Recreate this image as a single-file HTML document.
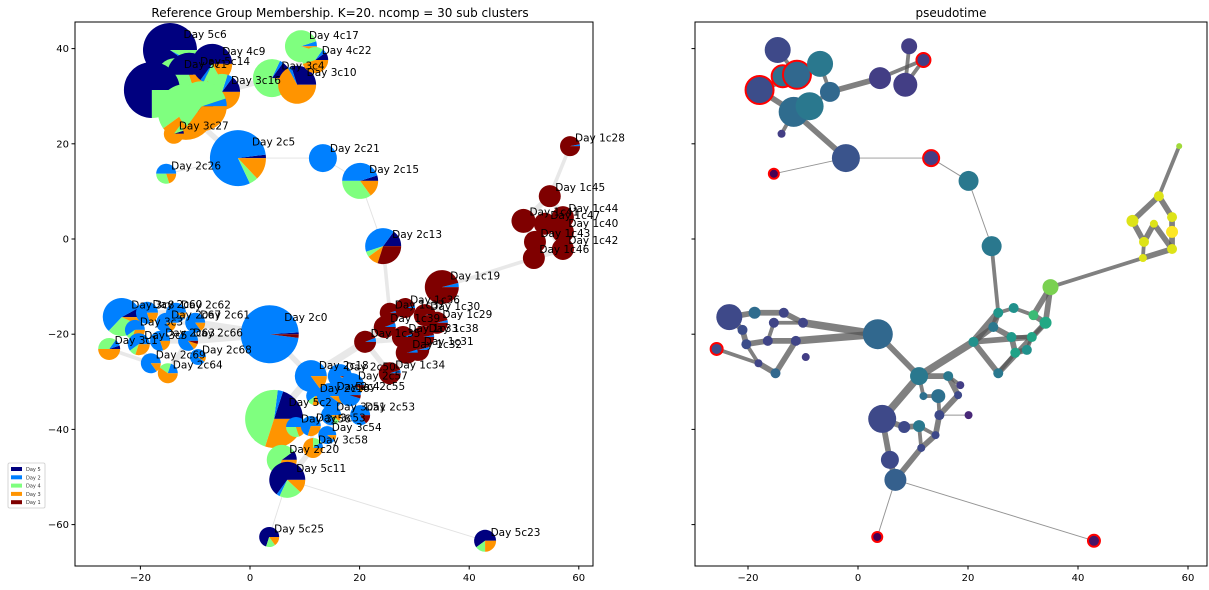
<!DOCTYPE html>
<html><head><meta charset="utf-8">
<style>
html,body{margin:0;padding:0;background:#fff;}
svg{display:block;font-family:"DejaVu Sans","Liberation Sans",sans-serif;}
</style></head>
<body>
<svg id="chart" width="1209" height="590" viewBox="0 0 1209 590" xmlns="http://www.w3.org/2000/svg">
<defs>
<clipPath id="clipL"><rect x="75" y="22" width="518" height="544"/></clipPath>
<clipPath id="clipR"><rect x="695" y="22" width="512" height="544"/></clipPath>
</defs>
<text x="340" y="17" font-size="12" text-anchor="middle">Reference Group Membership. K=20. ncomp = 30 sub clusters</text>
<text x="951" y="17" font-size="12" text-anchor="middle">pseudotime</text>
<g id="leftEdges" clip-path="url(#clipL)"></g>
<g id="leftNodes" clip-path="url(#clipL)"></g>
<g id="leftLabels"></g>
<g id="rightEdges" clip-path="url(#clipR)"></g>
<g id="rightNodes" clip-path="url(#clipR)"></g>
<g id="axes"></g>
<g id="legend"></g>
</svg>
<script>
const nodeLabels=["Day 5c6","Day 5c1","Day 5c14","Day 4c9","","Day 3c16","","","Day 3c27","Day 2c5","Day 2c26","Day 3c4","Day 3c10","Day 4c17","Day 4c22","Day 2c21","Day 2c15","Day 2c13","Day 1c28","Day 1c45","Day 1c41","Day 1c47","Day 1c44","Day 1c40","Day 1c43","Day 1c42","Day 1c46","Day 1c19","Day 1c37","Day 1c36","Day 1c30","Day 1c29","Day 1c39","Day 1c33","Day 1c38","Day 1c35","Day 1c31","Day 1c32","Day 1c34","Day 3c8","Day 2c60","Day 3c3","Day 2c62","Day 2c67","Day 2c61","Day 3c5","Day 2c63","Day 2c66","Day 3c1","Day 2c68","Day 2c69","Day 2c64","Day 2c0","Day 2c18","Day 2c50","Day 2c57","Day 2c16","Day 2c4","Day 2c55","Day 2c53","Day 3c51","Day 5c2","Day 3c56","Day 3c53","Day 3c54","Day 3c58","Day 2c20","Day 5c11","Day 5c25","Day 5c23"];
const nodeX=[-14.6,-13.7,-11.1,-6.9,-17.9,-5.1,-11.7,-8.8,-13.9,-2.2,-15.3,4.0,8.6,9.3,11.9,13.3,20.1,24.3,58.4,54.7,49.9,53.8,57.1,57.1,52.0,57.1,51.8,35.0,25.5,28.3,31.9,34.1,24.6,27.9,31.6,21.0,30.7,28.6,25.5,-23.4,-18.8,-21.0,-13.5,-15.3,-10.0,-20.3,-16.4,-11.3,-25.7,-9.5,-18.1,-15.0,3.6,11.1,16.4,18.6,11.9,14.6,18.2,20.1,14.8,4.4,8.4,11.1,14.1,11.5,5.8,6.8,3.5,42.9];
const nodeY=[39.7,34.2,34.5,36.8,31.3,30.9,26.7,27.9,22.1,17.0,13.7,33.8,32.4,40.5,37.6,17.0,12.2,-1.5,19.5,9.0,3.8,3.2,4.6,1.5,-0.6,-2.1,-4.0,-10.1,-15.5,-14.5,-16.0,-17.6,-18.5,-20.6,-20.6,-21.6,-23.3,-23.9,-28.2,-16.4,-15.5,-19.1,-15.5,-17.6,-17.6,-22.1,-21.4,-21.4,-23.1,-24.8,-26.1,-28.2,-20.0,-28.8,-28.8,-30.7,-33.0,-33.0,-32.8,-37.0,-37.0,-37.8,-39.5,-39.3,-41.2,-43.9,-46.4,-50.6,-62.6,-63.4];
const sizeLeft=[27,18,22,20,28,18,28,25,10,28,10,19,19,16,13,14,18,18,10,11,12,11,11,11,11,11,11,17,10,10,11,11,11,11,11,11,11,11,11,19,11,10,10,10,10,11,10,10,11,8,10,10,29,16,12,12,9,13,11,10,10,29,10,10,9,10,15,18,10,11];
const sizeRight=[13,11,14,13,14,10,15,14,4,14,5,11,12,8,7,8,10,10,3,5,6,4,5,6,5,5,4,8,5,5,5,6,5,5,5,5,5,5,5,13,6,5,5,5,5,5,5,5,6,4,4,5,15,9,5,4,4,7,4,4,5,14,6,6,4,4,9,11,5,6];
const fracDay5=[.9,.2,.5,.65,.75,.15,.05,0,.05,.02,0,.15,.3,0,.1,0,.05,.15,0,0,0,0,0,0,0,0,0,0,0,0,0,0,0,0,0,0,0,0,0,.08,0,0,0,0,0,0,0,0,.05,0,0,0,.01,0,0,0,0,0,0,0,0,.2,0,0,0,0,.1,.65,.7,.6];
const fracDay2=[.02,0,0,.03,0,.05,0,.05,0,.8,.5,.03,.03,.05,.05,1,.45,.4,.03,0,0,0,0,0,0,0,0,.04,.05,.04,.03,.04,.06,.05,.03,.06,.04,.05,.05,.55,.8,.6,.9,.85,.85,.6,.8,.85,.1,.9,.85,.2,.97,.85,.9,.9,.6,.9,.95,.85,.8,.03,.5,.7,.9,.1,0,.03,0,0];
const fracDay4=[.08,.7,.3,.15,.25,.2,.55,.6,.1,.05,.3,.8,0,.9,.4,0,.35,.05,0,0,0,0,0,0,0,0,0,0,0,0,0,0,0,0,0,0,0,0,0,.3,0,.1,0,0,0,.1,0,0,.35,0,0,.2,0,0,0,0,.1,0,0,0,.1,.47,.3,0,0,.15,.6,.2,.15,.15];
const fracDay3=[0,.1,.2,.17,0,.6,.4,.35,.85,.13,.2,.02,.67,.05,.45,0,.15,.1,0,0,0,0,0,0,0,0,0,0,0,0,0,0,0,0,0,0,0,0,0,.07,.2,.3,.1,.15,.15,.3,.2,.1,.5,.1,.15,.6,0,.15,.05,.05,.3,.1,0,0,.1,.3,.2,.3,.1,.75,.3,.12,.15,.25];
const fracDay1=[0,0,0,0,0,0,0,0,0,0,0,0,0,0,0,0,0,.3,.97,1,1,1,1,1,1,1,1,.96,.95,.96,.97,.96,.94,.95,.97,.94,.96,.95,.95,0,0,0,0,0,0,0,0,.05,0,0,0,0,.02,0,.05,.05,0,0,.05,.15,0,0,0,0,0,0,0,0,0,0];
const pseudotime=[.22,.41,.37,.45,.24,.37,.39,.45,.17,.27,0,.17,.17,.17,.17,.17,.45,.45,.88,.97,.97,.97,.97,1,.97,.97,.97,.83,.57,.55,.73,.65,.45,.58,.63,.55,.55,.62,.45,.22,.39,.24,.2,.2,.2,.24,.2,.2,.24,.17,.2,.37,.37,.45,.45,.17,.41,.41,.22,.1,.22,.22,.22,.45,.22,.22,.22,.33,0,.05];
const isRoot=[0,1,1,0,1,0,0,0,0,0,1,0,0,0,1,1,0,0,0,0,0,0,0,0,0,0,0,0,0,0,0,0,0,0,0,0,0,0,0,0,0,0,0,0,0,0,0,0,1,0,0,0,0,0,0,0,0,0,0,0,0,0,0,0,0,0,0,0,1,1];
const edgeFrom=[0,2,4,6,6,5,11,13,14,3,7,9,9,15,16,17,18,19,19,20,21,22,23,24,25,21,26,27,27,28,28,29,30,32,33,31,32,35,33,36,34,38,52,52,52,39,39,40,42,41,45,46,43,43,48,50,51,45,53,35,53,53,54,54,56,57,58,60,64,61,62,63,63,65,61,66,67,67,59,56,38,35];
const edgeTo=[2,4,6,8,9,11,14,12,12,5,5,10,15,16,17,28,19,20,22,24,24,23,25,26,26,25,27,30,31,29,32,30,31,33,34,34,35,38,37,37,36,37,44,47,53,40,41,42,44,45,46,47,44,46,50,51,47,50,35,28,61,54,55,58,57,60,60,64,65,62,63,64,65,67,66,67,68,69,60,53,31,34];
const edgeWeight=[2,3,3,2,3,3,2,2,2,2,2,.5,.5,.5,.5,2,2,3,3,3,3,3,3,2,3,3,2,3,3,2,3,2,3,3,2,2,3,3,3,3,2,2,4,4,3,3,3,3,3,3,3,3,2,2,2,3,3,2,4,4,4,3,2,3,2,2,3,3,3,3,3,2,2,3,3,3,.5,.5,.5,2,3,3];
const legendLabels=["Day 5","Day 2","Day 4","Day 3","Day 1"];
const dayColors=["#00007f","#0080ff","#7fff7f","#ff9400","#7f0000"];
const xTicks=[-20,0,20,40,60];
const yTicks=[-60,-40,-20,0,20,40];

const NS="http://www.w3.org/2000/svg";
function mk(tag,attrs,parent){const e=document.createElementNS(NS,tag);for(const k in attrs)e.setAttribute(k,attrs[k]);parent.appendChild(e);return e;}
const xL=v=>250+v*5.48, xR=v=>858+v*5.5, yS=v=>239-v*4.76;
const vir=[[0,"#440154"],[.1,"#482878"],[.17,"#433e85"],[.22,"#3e4989"],[.27,"#3a548c"],[.33,"#35608d"],[.37,"#31688e"],[.41,"#2d708e"],[.45,"#2a788e"],[.55,"#21918c"],[.6,"#1f9e89"],[.65,"#22a884"],[.73,"#3cbb75"],[.83,"#7ad151"],[.88,"#a0da39"],[.97,"#dde318"],[1,"#fde725"]];
function hex(h){return [1,3,5].map(i=>parseInt(h.substr(i,2),16));}
function viridis(t){for(let i=1;i<vir.length;i++){if(t<=vir[i][0]){const a=vir[i-1],b=vir[i];const f=(t-a[0])/(b[0]-a[0]||1);const ca=hex(a[1]),cb=hex(b[1]);return "rgb("+ca.map((c,k)=>Math.round(c+(cb[k]-c)*f)).join(",")+")";}}return vir[vir.length-1][1];}

const gLE=document.getElementById('leftEdges'),gLN=document.getElementById('leftNodes'),gLL=document.getElementById('leftLabels');
const gRE=document.getElementById('rightEdges'),gRN=document.getElementById('rightNodes');
const gAx=document.getElementById('axes'),gLg=document.getElementById('legend');

for(let k=0;k<edgeFrom.length;k++){
  const a=edgeFrom[k],b=edgeTo[k],w=edgeWeight[k];
  const l=mk('line',{x1:xL(nodeX[a]),y1:yS(nodeY[a]),x2:xL(nodeX[b]),y2:yS(nodeY[b]),stroke:"#d6d6d6","stroke-opacity":w<1?0.7:0.55,"stroke-width":Math.max(0.6,w*1.8)},gLE);
  
  
  const r=mk('line',{x1:xR(nodeX[a]),y1:yS(nodeY[a]),x2:xR(nodeX[b]),y2:yS(nodeY[b]),stroke:w<1?"#888":"#555","stroke-opacity":w<1?0.9:0.75,"stroke-width":Math.max(0.7,w*1.9)},gRE);
  
  
}
for(let i=0;i<nodeX.length;i++){
  const cx=xL(nodeX[i]),cy=yS(nodeY[i]),R=sizeLeft[i];
  const g=mk('g',{},gLN);
  
  
  const fr=[fracDay5[i],fracDay2[i],fracDay4[i],fracDay3[i],fracDay1[i]];
  const tot=fr.reduce((s,v)=>s+v,0)||1;
  let ang=0;
  fr.forEach((f,d)=>{
    if(f<=0)return;
    const a0=ang,a1=ang+f/tot*2*Math.PI;ang=a1;
    let p;
    if(f/tot>0.999){p=mk('circle',{cx:cx,cy:cy,r:R,fill:dayColors[d]},g);}
    else{
      const x0=cx+R*Math.cos(a0),y0=cy-R*Math.sin(a0),x1=cx+R*Math.cos(a1),y1=cy-R*Math.sin(a1);
      p=mk('path',{d:`M${cx},${cy}L${x0},${y0}A${R},${R} 0 ${(a1-a0)>Math.PI?1:0} 0 ${x1},${y1}Z`,fill:dayColors[d]},g);
    }
    
    
  });
  if(nodeLabels[i]){
    const t=mk('text',{x:cx+R*0.5,y:cy-R*0.45,"font-size":"10.5",fill:"#000"},gLL);
    t.textContent=nodeLabels[i];
    
    
  }
  const c=mk('circle',{cx:xR(nodeX[i]),cy:cy,r:sizeRight[i],fill:viridis(pseudotime[i]),stroke:isRoot[i]?"#ff0000":"none","stroke-width":isRoot[i]?2:0},gRN);
  
  
}
function axes(x0,x1,fx,showY){
  const f=mk('rect',{x:x0,y:22,width:x1-x0,height:544,fill:"none",stroke:"#000","stroke-width":1},gAx);
  
  
  xTicks.forEach(v=>{
    const X=fx(v);
    const t=mk('line',{x1:X,y1:566,x2:X,y2:569.5,stroke:"#000"},gAx);
    
    
    const l=mk('text',{x:X,y:581,"font-size":"10","text-anchor":"middle"},gAx);
    l.textContent=v<0?"\u2212"+Math.abs(v):v;
    
    
  });
  yTicks.forEach(v=>{
    const Y=yS(v);
    const t=mk('line',{x1:x0-3.5,y1:Y,x2:x0,y2:Y,stroke:"#000"},gAx);
    
    
    if(showY){
      const l=mk('text',{x:x0-6,y:Y+3.5,"font-size":"10","text-anchor":"end"},gAx);
      l.textContent=v<0?"\u2212"+Math.abs(v):v;
      
      
    }
  });
}
axes(75,593,xL,true);
axes(695,1207,xR,false);
const lb=mk('rect',{x:8,y:463,width:37,height:45,fill:"#fff",stroke:"#ccc","stroke-width":0.8,rx:1.5},gLg);


legendLabels.forEach((s,i)=>{
  const y=467+i*8.3;
  const sw=mk('rect',{x:11,y:y,width:11,height:4,fill:dayColors[i]},gLg);
  
  
  const t=mk('text',{x:26,y:y+4,"font-size":"5",fill:"#333"},gLg);
  t.textContent=s;
  
  
});
</script>
</body></html>
